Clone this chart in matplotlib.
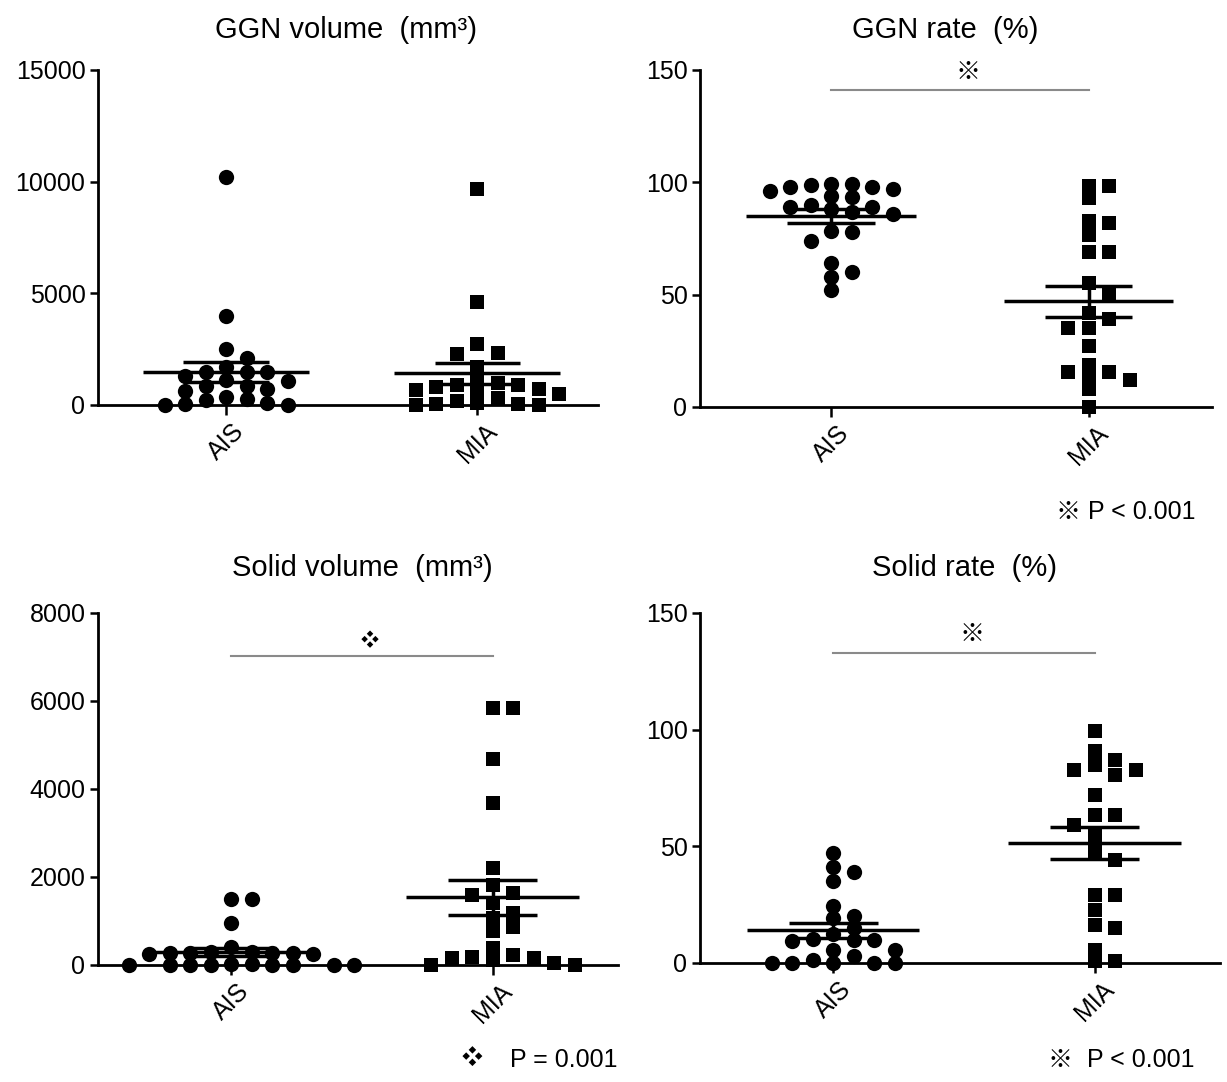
import numpy as np
import matplotlib
matplotlib.use('Agg')
import matplotlib.pyplot as plt

plt.rcParams['font.family'] = ['Liberation Sans', 'Noto Sans CJK SC', 'DejaVu Sans']

groups = ['AIS', 'MIA']

ggn_vol_ais = [10200, 4000, 2510, 2100, 1460, 1460, 1690, 1460, 1310, 1120, 1090,
               870, 720, 870, 640, 370, 220, 270, 45, 0, 15, 75]
ggn_vol_mia = [9680, 4600, 2750, 2350, 2300, 1700, 1000, 1150, 800, 900, 700,
               500, 600, 650, 300, 80, 20, 10, 30, 40, 200, 900]

ggn_rate_ais = [99, 99.4, 98, 94, 96, 97, 98, 99.4, 93.5, 90, 89,
                87, 86, 88, 89, 78.5, 78, 74, 64, 60, 58, 52]
ggn_rate_mia = [98.5, 98.5, 93, 82, 83, 76.5, 69, 69, 55, 50.5, 42,
                39, 35, 35, 27, 15.6, 13.4, 12, 15.6, 18.6, 8, 0]

solid_vol_ais = [1490, 1490, 960, 410, 300, 290, 280, 280, 270, 270, 260,
                 260, 20, 15, 10, 10, 5, 5, 0, 0, 0, 0]
solid_vol_mia = [5840, 5840, 4680, 3680, 2200, 1820, 1630, 1590, 1400, 1175, 1060,
                 860, 770, 380, 230, 190, 150, 150, 110, 40, 0, 0]

solid_rate_ais = [47, 38.9, 41, 35, 24.5, 19.3, 20.3, 15, 10.3, 9.3, 10,
                  10, 12.5, 5.4, 5.4, 3, 0, 0, 0, 0, 0, 1.1]
solid_rate_mia = [99.3, 90.7, 85, 80.7, 82.9, 82.9, 87, 72, 63.6, 63.6, 59.3,
                  55, 47.9, 44.3, 29.3, 29.3, 22.9, 16.4, 15, 5.7, 0.7, 0.7]

W, H = 1227, 1082
fig = plt.figure(figsize=(W / 100, H / 100), dpi=100)


def px_rect(left, top, right, bottom):
    return [left / W, 1 - bottom / H, (right - left) / W, (bottom - top) / H]


def swarm_x(ax, center, values, step=20.5, row=11.5):
    # greedy dot-plot layout in pixel space, nearest free column to the centre
    tr = ax.transData
    x0 = tr.transform((center, 0))[0]
    ys = [tr.transform((center, v))[1] for v in values]
    xs = [0.0] * len(values)
    placed = []
    for i in np.argsort(values)[::-1]:
        for c in [0, 1, -1, 2, -2, 3, -3, 4, -4, 5, -5, 6, -6]:
            px = x0 + c * step
            if all(abs(px - qx) > step * 0.5 or abs(ys[i] - qy) >= row
                   for qx, qy in placed):
                break
        placed.append((px, ys[i]))
        xs[i] = tr.inverted().transform((px, ys[i]))[0]
    return xs


def panel(rect, ais, mia, ylim, yticks):
    ax = fig.add_axes(rect)
    ax.set_xlim(-0.51, 1.48)
    ax.set_ylim(*ylim)
    for s in ['top', 'right']:
        ax.spines[s].set_visible(False)
    for s in ['left', 'bottom']:
        ax.spines[s].set_linewidth(2)
    ax.set_yticks(yticks)
    ax.set_xticks([0, 1])
    ax.set_xticklabels(groups, rotation=45, ha='center')
    ax.tick_params(axis='y', length=6, width=1.8, labelsize=18, pad=3)
    ax.tick_params(axis='x', length=7, width=1.8, labelsize=18, pad=3)

    for xc, vals, mk, ms in [(0, ais, 'o', 11), (1, mia, 's', 10.5)]:
        xs = swarm_x(ax, xc, vals)
        ax.plot(xs, vals, mk, color='black', ms=ms, mew=0, clip_on=False, zorder=3)
        m = np.mean(vals)
        sem = np.std(vals, ddof=1) / np.sqrt(len(vals))
        ax.hlines(m, xc - 0.33, xc + 0.33, color='black', lw=2.5, zorder=4)
        ax.hlines([m - sem, m + sem], xc - 0.17, xc + 0.17, color='black', lw=2.5, zorder=4)
        ax.vlines(xc, m - sem, m + sem, color='black', lw=2.5, zorder=4)
    return ax


ax1 = panel(px_rect(98, 70, 598, 405), ggn_vol_ais, ggn_vol_mia, (0, 15000), [0, 5000, 10000, 15000])
ax2 = panel(px_rect(700, 70, 1212, 407), ggn_rate_ais, ggn_rate_mia, (0, 150), [0, 50, 100, 150])
ax3 = panel(px_rect(98, 613, 618, 965), solid_vol_ais, solid_vol_mia, (0, 8000), [0, 2000, 4000, 6000, 8000])
ax4 = panel(px_rect(700, 613, 1220, 963), solid_rate_ais, solid_rate_mia, (0, 150), [0, 50, 100, 150])

# titles
fig.text(346 / W, 1 - 30 / H, 'GGN volume  (mm³)', ha='center', va='center', fontsize=21)
fig.text(945 / W, 1 - 30 / H, 'GGN rate  (%)', ha='center', va='center', fontsize=21)
fig.text(362 / W, 1 - 568 / H, 'Solid volume  (mm³)', ha='center', va='center', fontsize=21)
fig.text(965 / W, 1 - 568 / H, 'Solid rate  (%)', ha='center', va='center', fontsize=21)

# significance bars
for ax, ybar, sym in [(ax2, 141, '※'), (ax3, 7020, '❖'), (ax4, 133, '※')]:
    ax.plot([0, 1], [ybar, ybar], color='#8a8a8a', lw=1.5, clip_on=False)
    ax.text(0.53, ybar * 1.02, sym, ha='center', va='bottom',
            fontsize=18 if sym == '※' else 13, clip_on=False)

# footnotes
fig.text(1195 / W, 1 - 512 / H, '※ P < 0.001', ha='right', va='center', fontsize=18)
fig.text(618 / W, 1 - 1060 / H, 'P = 0.001', ha='right', va='center', fontsize=18)
fig.text(472 / W, 1 - 1058 / H, '❖', ha='center', va='center', fontsize=15)
fig.text(1195 / W, 1 - 1060 / H, '※  P < 0.001', ha='right', va='center', fontsize=18)

fig.savefig('out.png', dpi=100)
